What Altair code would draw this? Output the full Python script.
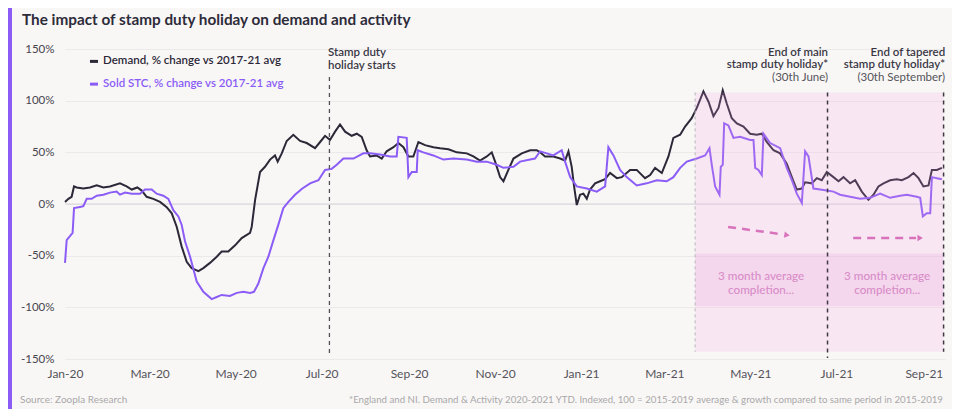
import altair as alt
import pandas as pd

# x values are days since 1 Jan 2020
demand_day = [0, 2.4, 4.7, 6.4, 8.3, 13, 17.7, 22.5, 27.2, 31.9, 39, 43.7, 47.3, 51.3, 54.4, 57.9, 62.6, 67.4,
              72.1, 75.7, 79.2, 82.7, 86.3, 89.8, 94.6, 98.1, 102.8, 107.6, 111.1, 115.8, 120.6, 125.3, 131.2,
              132.4, 134.8, 138.3, 141.8, 145.4, 148.9, 150.8, 153.7, 157.2, 161.9,
              166.7, 171.4, 177.3, 180.9, 184.4, 187.9, 191.5, 195, 198.6, 203.3, 206.9, 210.4, 213.9, 216.3,
              221, 224.6, 228.1, 232.9, 236.4, 240, 243.5, 247, 250.6, 255.3, 261.2, 266, 271.9, 277.8, 284.9,
              289.6, 294.3, 299.1, 302.6, 305, 308.5, 310.9, 314.4, 318, 323.9, 329.8, 334.5, 336.9, 340.4,
              346.3, 351.1, 354.6, 357, 359.3, 361,
              362.9, 365.2, 367.6, 370, 372.3, 375.9, 379.4, 383, 386.5, 391.3, 394.8, 400.7, 405.4, 411.3,
              414.9, 418.4, 423.2, 427.9, 431.4, 436.2, 439.7, 444.4, 448, 452.7, 456.3, 459.8, 463.4, 466.4,
              469.3, 472.8, 476.4, 481.1, 485.8, 490.5, 494.1, 497.6, 502.4, 507.1, 511.8, 515.4, 518.9, 522.5,
              524.8, 529.6, 533.1, 536.6, 540.2, 544.9, 548.5, 552, 556.7, 560.3, 565, 569.7, 573.3, 576.8,
              580.4, 585.1, 589.8, 593.4, 598.1, 601.7, 605.2, 608.7, 612.3, 614.7, 618.2, 621.8]
demand_val = [2, 5, 7, 17, 16, 15, 16, 18, 16, 17, 20, 17, 14, 16, 13, 7, 5, 2,
              -3, -9, -22, -41, -56, -62, -65, -62, -57, -51, -46, -46, -40, -33, -28,
              -22, 4, 31, 36, 43, 47, 41, 49, 61, 67,
              61, 59, 54, 60, 66, 62, 70, 77, 70, 66, 68, 65, 52, 46,
              47, 44, 51, 55, 59, 55, 46, 46, 60, 57, 55, 54, 53, 50, 49,
              46, 42, 46, 50, 41, 26, 22, 33, 44, 49, 52, 52, 50, 46,
              46, 44, 42, 51, 36, 17,
              -1, 9, 10, 5, 14, 20, 22, 24, 30, 25, 26, 33, 33, 25,
              28, 35, 30, 46, 64, 67, 75, 83, 93, 109, 99, 85, 93, 110,
              97, 83, 78, 75, 68, 67, 68, 60, 52, 49, 39, 26, 14, 15,
              21, 20, 25, 23, 31, 26, 22, 26, 20, 23, 12, 4, 9, 17,
              20, 23, 24, 23, 26, 30, 25, 17, 18, 33, 33, 35]

stc_day = [0, 1.2, 3.5, 5.4, 6.4, 10.6, 13, 15.4, 18.9, 22.5, 27.2, 31.9, 36.6, 39, 42.6, 47.3, 53.2, 56.7,
           61.5, 65, 69.7, 73.3, 76.8, 80.4, 82.7, 85.1, 88.7, 93.4, 98.1, 104, 107.6, 111.1, 117, 121.8,
           126.5, 131.2, 134, 137.1, 140.7, 144.2, 147.8, 151.3, 154.8, 158.4, 163.1, 168.3,
           173.8, 179.7, 184.4, 189.1, 192.7, 197.4, 204.5, 211.6, 216.3, 223.4, 230.5, 235.2, 236.4, 242.3,
           243.5, 245.9, 249.4, 250.1, 254.1, 261.2, 268.3, 275.4, 284.9, 292, 299.1, 306.1, 310.9, 318,
           322.7, 329.8, 333.3, 336.9, 341.6, 346.3, 352.2,
           354.6, 358.2, 362.9, 370, 377.1, 383, 385.3, 388.9, 393.6, 398.3, 405.4, 412.5, 419.6, 426.7,
           431.4, 436.2, 440.9, 448, 453.9, 457, 458.6, 461, 464.1, 465, 466.4, 467.4, 470.4, 474, 478.7,
           485.8, 488.2, 489.4, 491.7, 494.1, 495.3, 500, 507.1, 511.8, 515.4, 518.9, 522.5, 524.8, 527.2,
           530.7, 535.5, 540.2, 544.9, 549.6, 556.7, 563.8, 570.9, 578, 585.1, 592.2, 596.9, 604, 606.4,
           608.3, 611.1, 613.5, 614.7, 618.2, 621.8]
stc_val = [-57, -35, -31, -28, -4, -3, -2, 5, 5, 8, 9, 11, 12, 9, 11, 10, 10, 14,
           14, 10, 8, 5, -6, -12, -20, -36, -51, -75, -85, -92, -90, -88, -89, -86,
           -85, -86, -85, -77, -62, -51, -35, -20, -4, 2, 9, 15,
           20, 23, 33, 34, 38, 44, 44, 49, 49, 48, 46, 46, 65, 64,
           26, 31, 31, 52, 50, 47, 43, 44, 43, 41, 41, 38, 35, 36,
           41, 43, 44, 51, 49, 47, 52,
           41, 26, 17, 15, 12, 17, 55, 47, 33, 26, 18, 20, 23, 22,
           26, 35, 41, 44, 47, 54, 38, 17, 9, 36, 38, 78, 76, 64, 65,
           62, 62, 35, 33, 28, 68, 59, 54, 35, 23, 10, 1, 51, 46,
           15, 14, 13, 12, 9, 7, 5, 6, 10, 6, 8, 9, 7, 6,
           -12, -9, -9, 26, 25, 24]

series_names = ["Demand, % change vs 2017-21 avg", "Sold STC, % change vs 2017-21 avg"]
series_colors = ["#2c2838", "#8b5cf6"]
y_ticks = [-150, -100, -50, 0, 50, 100, 150]
x_tick_months = [(2020, 1), (2020, 3), (2020, 5), (2020, 7), (2020, 9), (2020, 11),
                 (2021, 1), (2021, 3), (2021, 5), (2021, 7), (2021, 9)]

base = pd.Timestamp("2020-01-01")


def D(day):
    return base + pd.Timedelta(days=day)


demand_df = pd.DataFrame({"date": base + pd.to_timedelta(demand_day, unit="D"), "v": demand_val})
stc_df = pd.DataFrame({"date": base + pd.to_timedelta(stc_day, unit="D"), "v": stc_val})

xscale = alt.Scale(domain=[alt.DateTime(year=2020, month=1, date=1),
                           alt.DateTime(year=2021, month=9, date=16)])
yscale = alt.Scale(domain=[-150, 150], nice=False)

FONT = "Lato"

x_axis = alt.Axis(
    values=[alt.DateTime(year=y, month=m, date=1) for (y, m) in x_tick_months],
    format="%b-%y", labelFontSize=12, labelColor="#55535a", labelFont=FONT,
    ticks=False, domain=False, grid=False, labelPadding=9, labelFlush=False,
    labelOverlap=False, title=None)
y_axis = alt.Axis(
    values=y_ticks, labelExpr="datum.value + '%'", labelFontSize=11.5, labelColor="#47454d",
    labelFont=FONT, ticks=False, domain=False, grid=True, gridColor="#ebe9ea",
    gridWidth=1, labelPadding=11, title=None)

X = alt.X("date:T", scale=xscale, axis=x_axis)
Y = alt.Y("v:Q", scale=yscale, axis=y_axis)

zero = alt.Chart(pd.DataFrame({"v": [0]})).mark_rule(color="#d6d4d8", strokeWidth=1).encode(y=Y)

demand = alt.Chart(demand_df).mark_line(color=series_colors[0], strokeWidth=2).encode(x=X, y=Y)
stc = alt.Chart(stc_df).mark_line(color=series_colors[1], strokeWidth=2).encode(x=X, y=Y)


def rect(d1, d2, v1, v2, color, opacity):
    df = pd.DataFrame({"date": [D(d1)], "date2": [D(d2)], "v": [v1], "v2": [v2]})
    return alt.Chart(df).mark_rect(color=color, opacity=opacity).encode(
        x=X, x2="date2", y=Y, y2="v2")


def vrule(day, v1, v2, color, width, dash):
    df = pd.DataFrame({"date": [D(day)], "v": [v1], "v2": [v2]})
    return alt.Chart(df).mark_rule(color=color, strokeWidth=width, strokeDash=dash).encode(
        x=X, y=Y, y2="v2")


def texts(rows, align, size, weight, color):
    df = pd.DataFrame(rows, columns=["day", "v", "t"])
    df["date"] = base + pd.to_timedelta(df["day"], unit="D")
    df = df[["date", "v", "t"]]
    return alt.Chart(df).mark_text(align=align, baseline="middle", fontSize=size,
                                   fontWeight=weight, color=color, font=FONT).encode(
        x=X, y=Y, text="t:N")


shade = rect(446.8, 623, 108, -143, "#fb9ee9", 0.18)
band = rect(446.8, 623, -48, -99, "#e59ad6", 0.2)

r_start = vrule(187.5, 123, -146, "#55535a", 1.3, [4, 4])
r_shade = vrule(446.8, 108, -143, "#b9b5ba", 1, [3, 3])
r_main = vrule(540.7, 108, -149, "#3d3a45", 1.5, [4, 4])
r_taper = vrule(623, 108, -143, "#3d3a45", 1.5, [4, 4])

ann_bold = texts([(186.5, 146, "Stamp duty"), (186.5, 133.5, "holiday starts")],
                 "left", 11.5, 600, "#3a3745")
ann_r_bold = texts([(541.1, 146, "End of main"), (541.1, 134.3, "stamp duty holiday*"),
                    (624.1, 146, "End of tapered"), (624.1, 134.3, "stamp duty holiday*")],
                   "right", 11.5, 600, "#3a3745")
ann_r_reg = texts([(541.1, 121.9, "(30th June)"), (624.1, 121.9, "(30th September)")],
                  "right", 11.5, 400, "#55535a")
ann_pink = texts([(493.6, -69.5, "3 month average"), (493.6, -83, "completion..."),
                  (583, -69.5, "3 month average"), (583, -83, "completion...")],
                 "center", 11.7, 500, "#d88cc8")

arrow_df = pd.DataFrame({"date": [D(470.2), D(558.9)], "date2": [D(509.5), D(603.5)],
                         "v": [-22.2, -32.9], "v2": [-29.5, -32.9]})
arrows = alt.Chart(arrow_df).mark_rule(color="#d873bb", strokeWidth=2.5, strokeDash=[8, 6]).encode(
    x=X, x2="date2", y=Y, y2="v2")
head_df = pd.DataFrame({"date": [D(512), D(606.4)], "v": [-30, -32.9], "a": [8, 0]})
heads = alt.Chart(head_df).mark_point(shape="triangle-right", filled=True, size=40,
                                      color="#d873bb", opacity=1).encode(
    x=X, y=Y, angle=alt.Angle("a:Q", scale=None))

leg_df = pd.DataFrame({"date": [D(17.7), D(17.7)], "date2": [D(23.4), D(23.4)], "v": [138, 116],
                       "s": series_names})
leg_color = alt.Color("s:N", scale=alt.Scale(domain=series_names, range=series_colors), legend=None)
leg_marks = alt.Chart(leg_df).mark_rule(strokeWidth=3).encode(
    x=X, x2="date2", y=Y, color=leg_color)
leg_text = alt.Chart(leg_df.assign(date=[D(27), D(27)])).mark_text(
    align="left", baseline="middle", fontSize=11.5, fontWeight=600, font=FONT).encode(
    x=X, y=Y, text="s:N", color=leg_color)

one = pd.DataFrame({"k": [0]})
title = alt.Chart(one).mark_text(align="left", baseline="middle", fontSize=15.3, fontWeight="bold",
                                 color="#2e2b3a", font=FONT).encode(
    x=alt.value(-43), y=alt.value(-29),
    text=alt.value("The impact of stamp duty holiday on demand and activity"))
foot_l = alt.Chart(one).mark_text(align="left", baseline="middle", fontSize=10, color="#aaa7a9",
                                  font=FONT).encode(
    x=alt.value(-45), y=alt.value(351), text=alt.value("Source: Zoopla Research"))
foot_r = alt.Chart(one).mark_text(align="right", baseline="middle", fontSize=9.7, color="#aaa7a9",
                                  font=FONT).encode(
    x=alt.value(878), y=alt.value(351),
    text=alt.value("*England and NI. Demand & Activity 2020-2021 YTD. Indexed, 100 = 2015-2019 "
                   "average & growth compared to same period in 2015-2019"))
side_bar = alt.Chart(one).mark_rect(color="#8b5cf6").encode(
    x=alt.value(-57), x2=alt.value(-53), y=alt.value(-41), y2=alt.value(360))

chart = alt.layer(
    zero, demand, stc, shade, band, r_start, r_shade, r_main, r_taper,
    arrows, heads, ann_bold, ann_r_bold, ann_r_reg, ann_pink,
    leg_marks, leg_text, title, foot_l, foot_r, side_bar
).properties(
    width=880, height=310,
    autosize=alt.AutoSizeParams(type="none"),
    padding={"left": 57, "top": 41, "right": 7, "bottom": 50},
    background="#f8f7f6"
).configure_view(stroke=None)

chart.save("out.html", embed_options={"renderer": "svg", "actions": False})
